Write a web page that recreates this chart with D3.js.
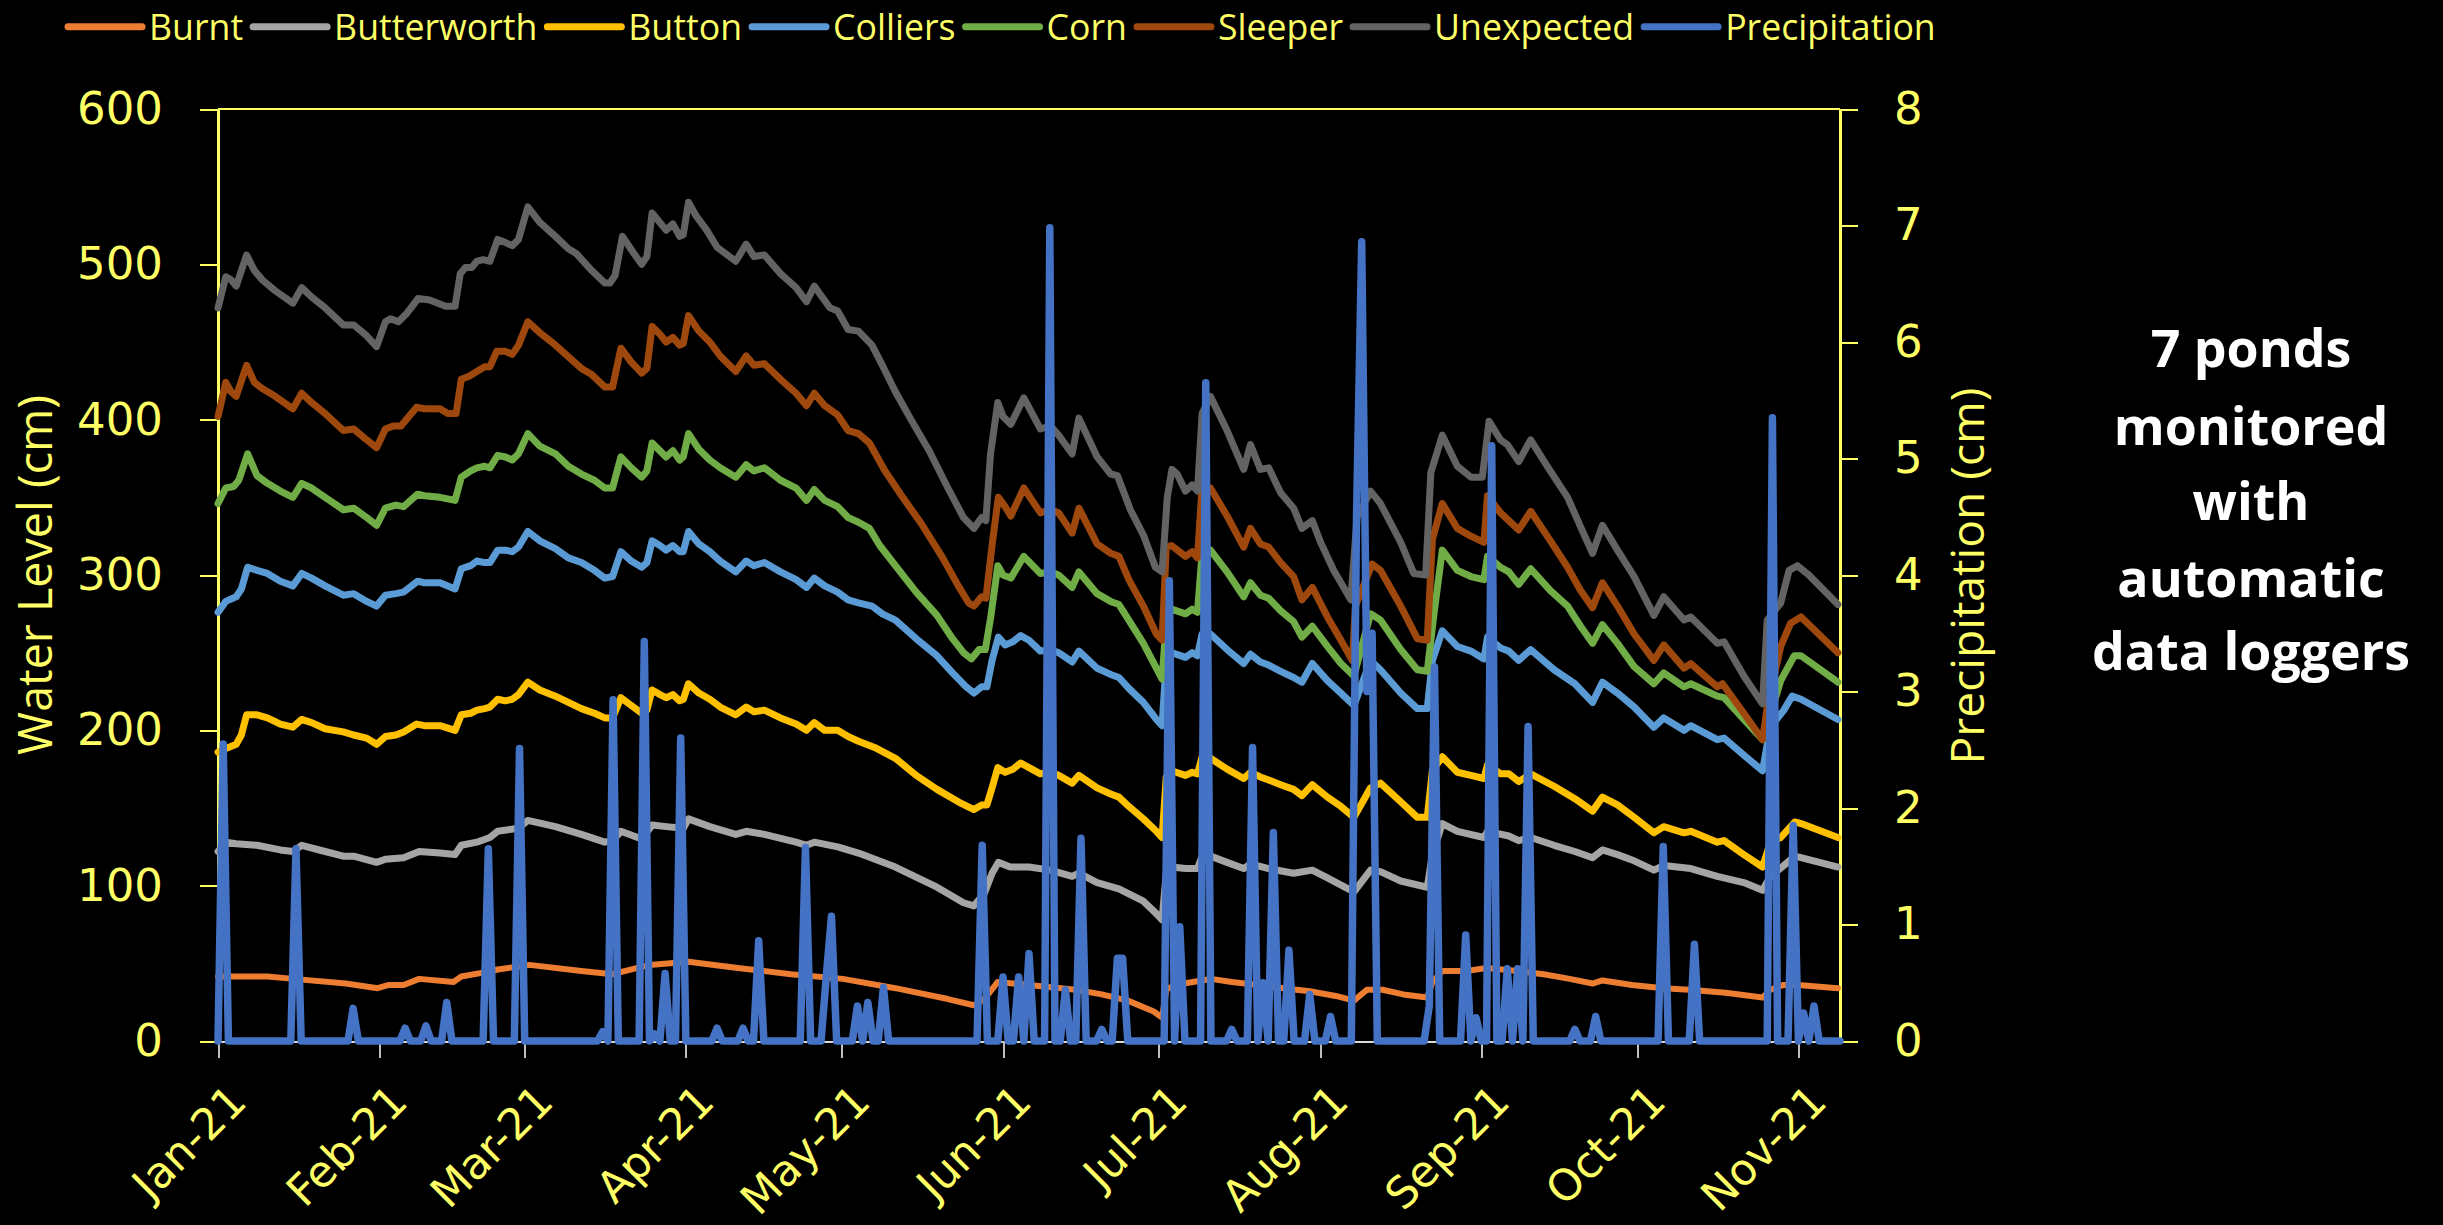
<!DOCTYPE html>
<html><head><meta charset="utf-8">
<script src="https://cdn.jsdelivr.net/npm/d3@7"></script>
<style>html,body{margin:0;padding:0;background:#000;}svg{display:block;}</style>
</head><body>
<svg id="chart" width="2443" height="1225"></svg>
<script>
// ---------------- DATA ----------------
// Each series: [day since 1 Jan 2021, value]
const startYear = 2021;
const lastDay = 312;
const monthTicks = ["2021-01-01","2021-02-01","2021-03-01","2021-04-01","2021-05-01","2021-06-01","2021-07-01","2021-08-01","2021-09-01","2021-10-01","2021-11-01"];
const leftTicks = [0,100,200,300,400,500,600];
const rightTicks = [0,1,2,3,4,5,6,7,8];
const seriesNames = ["Burnt","Butterworth","Button","Colliers","Corn","Sleeper","Unexpected","Precipitation"];
const seriesColors = ["#ED7D31","#A5A5A5","#FFC000","#5B9BD5","#70AD47","#9E480E","#636363","#4472C4"];
const noteLines = ["7 ponds","monitored","with","automatic","data loggers"];

const burnt = [[0,41.5],[9.5,41.5],[14.5,40],[24.6,37],[30.7,34],[32.7,36],[35.7,36],[38.7,40],[45.3,38],[46.8,41.5],[51.8,44.5],[53.8,46],[59.9,49],[69.9,45],[75.9,43],[83,49],[90.5,51],[100,47],[110.2,43],[120.2,40],[130.3,34],[140.4,27],[145.4,23],[147.4,27],[150,38],[156,36],[165,33],[170,30],[175,26],[180,19],[181.6,15],[182.4,33],[184,36],[189.3,39],[191,40],[195,38],[200,36],[205,34],[210,32],[215,29],[218.5,26],[221,33],[224,33],[228,30],[232.6,28],[233.6,38],[235.5,45],[240,45],[244,47],[250,45],[255,43],[260,40],[264.4,37],[266.3,39],[272,36],[278,34],[283,33],[290,31],[297.1,28],[298.6,33],[301,36],[304,36],[311.6,34]];

const butterworth = [[0,122],[1.5,128],[3.5,127],[7.5,126],[12,123],[14.4,122],[16.1,126],[20.6,122],[24.1,119],[26.1,119],[30.5,115],[32.2,117],[35.7,118],[38.7,122],[42.7,121],[45.6,120],[46.8,126],[49.8,128],[52.3,131],[53.8,135],[57.8,137],[59.6,142],[64.9,138],[69.9,133],[74.4,128],[75.9,129],[77.5,135],[81.5,130],[83.5,139],[86.2,138],[89.5,137],[90.5,143],[94.6,138],[99.6,133],[101.6,135],[105.1,133],[111.2,128],[113.2,126],[114.7,128],[119.2,125],[123.2,121],[130.3,112],[138.3,99],[143.4,89],[145.4,87],[147.4,95],[148.9,108],[150.1,115],[152.4,112],[156,112],[160.1,110],[164.3,106],[165.6,108],[169.1,102],[173.3,98],[178,90],[180.5,82],[181.6,78],[182.4,108],[183.4,112],[186.1,111],[188.4,111],[189.3,119],[190.9,119],[194.1,115],[197.3,111],[198.6,114],[202.1,111],[206.9,108],[210.5,110],[213.4,105],[218.5,96],[221.7,110],[223.6,109],[227.5,103],[232.6,99],[233.6,120],[235.5,140],[238.4,135],[243.5,131],[244.2,135],[248.3,132],[250.2,129],[252.5,131],[257,126],[261,122],[264.4,118],[266.3,123],[269.2,120],[272.4,116],[276.2,110],[278.1,113],[283.3,111],[288.4,106],[293.5,102],[297.1,97],[298.6,106],[301.2,113],[303.3,119],[304.5,118],[311.6,112]];

const button = [[0,186],[2,189],[3.5,191],[4.5,197],[5.5,210],[7.5,210],[9.5,208],[12,204],[14.4,202],[16.1,207],[18,205],[20.6,201],[24.1,199],[26.1,197],[28.6,195],[30.5,191],[32.2,196],[34.2,197],[35.7,199],[38.2,204],[39.7,203],[42.7,203],[45.6,200],[46.8,210],[48.6,211],[49.8,213],[51.3,214],[52.3,215],[53.8,220],[55.3,219],[56.6,220],[57.8,223],[59.6,231],[61.9,226],[64.9,222],[67.4,218],[69.9,214],[72.4,211],[74.4,208],[75.9,208],[77.5,221],[79.5,216],[81.5,211],[82.5,213],[83.5,226],[85,223],[86.2,221],[87.5,223],[88.8,219],[89.5,220],[90.5,230],[92.5,224],[94.6,220],[96.6,215],[99.6,210],[101.6,215],[103.1,212],[105.1,213],[108.2,208],[111.2,204],[113.2,200],[114.7,205],[116.7,200],[119.2,200],[121.2,196],[123.2,193],[126.3,189],[130.3,182],[134.3,171],[138.3,162],[142.4,154],[145.4,149],[146.9,152],[147.9,152],[148.9,163],[150,176],[151.4,173],[152.9,175],[154.4,179],[156,176],[158.2,172],[160.1,173],[161.7,171],[164.3,166],[165.6,171],[169.1,163],[171.7,159],[173.3,157],[175.2,151],[178,143],[180.5,135],[181.6,131],[182.4,170],[183.4,174],[186.1,171],[187.4,173],[188.4,172],[189.3,183],[190.9,182],[194.1,175],[197.3,169],[198.6,173],[200.5,170],[202.1,168],[204.4,165],[206.9,162],[208.5,158],[210.5,165],[213.4,157],[216,151],[218.5,144],[221.7,163],[223.6,166],[227.5,154],[230.7,144],[232.6,144],[233.6,174],[235.5,183],[238.4,173],[241,171],[243.5,169],[244.2,178],[246.7,172],[248.3,172],[250.2,167],[252.5,172],[257,164],[261,156],[264.4,148],[266.3,157],[269.2,152],[272.4,144],[276.2,134],[278.1,138],[282,134],[283.3,135],[288.4,128],[289.7,129],[293.5,120],[297.1,112],[298.6,128],[300.6,131],[303.3,141],[304.5,140],[311.6,131]];

const colliers = [[0,276],[1.5,283],[3.5,286],[4.5,291],[5.7,305],[7.5,303],[9.5,301],[12,296],[14.4,293],[16.1,301],[18,298],[20.6,293],[24.1,287],[26.1,288],[28.6,283],[30.5,280],[32.2,287],[34.2,288],[35.7,289],[38.4,296],[39.7,295],[42.7,295],[45.6,291],[46.8,304],[48.6,306],[49.8,309],[51.3,308],[52.3,308],[53.8,316],[55.3,316],[56.6,315],[57.8,318],[59.6,328],[61.9,322],[64.9,317],[67.4,311],[69.9,308],[72.4,303],[74.4,298],[75.9,299],[77.5,315],[79.5,309],[81.5,305],[82.5,308],[83.5,322],[85,319],[86.2,316],[87.5,319],[88.8,315],[89.5,315],[90.5,328],[92.5,320],[94.6,315],[96.6,309],[99.6,302],[101.6,309],[103.1,306],[105.1,308],[108.2,302],[111.2,297],[113.2,292],[114.7,298],[116.7,293],[119.2,289],[121.2,284],[123.2,282],[125.8,280],[127.8,275],[130.3,271],[134.3,259],[138.3,248],[141.3,237],[143.9,228],[145.4,224],[146.9,228],[147.9,228],[148.9,245],[150.1,260],[151.4,255],[152.9,257],[154.4,261],[156,258],[158.2,251],[160.1,252],[161.7,250],[164.3,244],[165.6,251],[169.1,240],[171.7,236],[173.3,234],[175.2,227],[178,218],[180.5,207],[181.6,203],[182.4,245],[183.4,250],[186.1,247],[187.4,250],[188.4,248],[189.3,262],[190.9,262],[194.1,252],[197.3,243],[198.6,249],[200.5,244],[202.1,242],[204.4,238],[206.9,234],[208.5,231],[210.5,243],[213.4,232],[216,224],[218.5,216],[221.7,245],[223.6,239],[227.5,224],[230.7,214],[232.6,214],[233.6,245],[235.5,264],[238.4,254],[241,251],[243.5,246],[244.2,260],[246.7,253],[248.3,251],[250.2,245],[252.5,252],[257,239],[261,230],[264.4,218],[266.3,231],[269.2,224],[272.4,215],[276.2,202],[278.1,208],[282,200],[283.3,203],[288.4,194],[289.7,195],[293.5,184],[297.1,174],[298.6,202],[301.2,213],[302.8,222],[304.5,220],[311.6,207]];

const corn = [[0,346],[1.5,356],[3,357],[4,361],[5.7,378],[7.5,364],[9.5,359],[12,354],[14.4,350],[16.1,359],[18,356],[20.6,350],[24.1,342],[26.1,343],[28.6,337],[30.5,332],[32.2,343],[34.2,345],[35.7,344],[38.4,352],[39.7,351],[42.7,350],[45.6,348],[46.8,363],[48.6,367],[49.8,369],[51.3,370],[52.3,369],[53.8,377],[55.3,376],[56.6,374],[57.8,378],[59.6,391],[61.9,383],[64.9,378],[67.4,370],[69.9,365],[72.4,361],[74.4,356],[75.9,356],[77.5,376],[79.5,369],[81.5,363],[82.5,367],[83.5,385],[85,380],[86.2,376],[87.5,380],[88.8,374],[89.5,376],[90.5,391],[92.5,381],[94.6,374],[96.6,369],[99.6,363],[101.6,371],[103.1,367],[105.1,369],[108.2,361],[111.2,356],[113.2,348],[114.7,355],[116.7,348],[119.2,344],[121.2,337],[123.2,334],[125.3,330],[127.3,319],[130.3,306],[134.3,289],[138.3,274],[141.3,259],[143.4,250],[144.9,246],[146.4,252],[147.6,252],[148.6,272],[150,306],[151,300],[152.5,298],[155,312],[158.2,301],[160.1,302],[161.7,300],[164.3,292],[165.6,302],[169.1,288],[171.7,283],[173.3,281],[175.2,271],[178,256],[180.5,240],[181.6,233],[182.4,270],[183.4,278],[186.1,275],[187.4,278],[188.4,276],[189.3,314],[190.9,316],[194.1,302],[197.3,286],[198.6,295],[200.5,287],[202.1,285],[204.4,277],[206.9,270],[208.5,260],[210.5,267],[213.4,254],[216,243],[218.5,235],[221.7,275],[223.6,271],[227.5,252],[230.7,239],[232.6,238],[233.9,275],[235.5,316],[238.4,303],[241,299],[243.5,297],[244.2,312],[246.7,305],[248.3,302],[250.2,294],[252.5,304],[256.3,290],[259.6,280],[262.1,267],[264.4,256],[266.3,268],[269.2,256],[272.4,241],[276.2,230],[278.1,237],[282,228],[283.3,230],[288.4,222],[289.7,221],[293.5,207],[297.1,194],[300.6,232],[303.2,248],[304.5,248],[311.6,231]];

const sleeper = [[0,402],[1.5,424],[2.5,418],[3.5,415],[5.5,435],[7,424],[8.5,420],[11,415],[14.4,407],[16.1,417],[18,411],[20.6,404],[24.1,393],[26.1,394],[28.6,387],[30.5,382],[32.2,394],[33.7,396],[35.2,396],[38.2,408],[39.7,407],[42.7,407],[44.2,404],[45.8,404],[46.8,426],[48.3,428],[49.8,431],[51.3,434],[52.3,434],[53.6,444],[55.3,444],[56.6,442],[57.8,448],[59.6,463],[61.9,456],[64.9,448],[67.9,439],[69.9,433],[71.9,429],[74.4,421],[75.9,421],[77.5,446],[79.5,437],[81.5,430],[82.5,433],[83.5,460],[85,455],[86.2,450],[87.5,453],[88.8,448],[89.5,449],[90.5,467],[92.5,457],[94.6,450],[96.6,441],[99.6,431],[101.6,441],[103.1,435],[105.1,436],[108.2,426],[111.2,417],[113.2,409],[114.7,417],[116.7,409],[119.2,403],[121.2,393],[123.2,391],[125.3,385],[128.3,367],[131.3,352],[135.3,333],[139.4,311],[142.4,293],[144.4,282],[145.4,280],[146.9,286],[147.7,285],[149,322],[150.1,350],[151.4,344],[152.5,338],[155,356],[158.2,340],[160.1,342],[161.7,340],[164.3,327],[165.6,343],[169.1,320],[171.7,314],[173.3,312],[175.2,297],[178,280],[180.5,262],[181.6,258],[182.4,318],[183.4,319],[186.1,312],[187.4,315],[188.4,311],[189.3,357],[190.9,356],[194.1,338],[197.3,318],[198.6,330],[200.5,320],[202.1,318],[204.4,308],[206.9,299],[208.5,284],[210.5,292],[213.4,273],[216,258],[218.2,245],[218.8,280],[222,307],[223.6,303],[227.5,280],[230.7,259],[232.6,258],[233.6,323],[235.5,346],[238.4,330],[241,325],[243.5,321],[244.2,351],[246.7,340],[248.3,335],[250.2,329],[252.5,341],[256.3,322],[259.6,305],[262.1,290],[264.4,279],[266.3,295],[269.2,280],[272.4,262],[276.2,245],[278.1,255],[282,240],[283.3,243],[288.4,228],[289.4,230],[293.5,211],[297.1,194],[298,215],[300.6,254],[302.5,269],[304.5,273],[311.6,250]];

const unexpected = [[0,472],[1.5,492],[2.5,490],[3.5,486],[5.5,506],[7,496],[8.5,490],[11,483],[14.4,475],[16.1,485],[18,479],[20.6,472],[24.1,461],[26.1,461],[28.6,454],[30.5,447],[32.2,463],[33.2,465],[34.7,463],[36.2,468],[38.5,478],[40.7,477],[43.8,473],[45.6,473],[46.6,494],[47.6,498],[48.8,498],[49.8,502],[51,503],[52.3,502],[53.8,516],[55.3,514],[56.6,512],[57.8,516],[59.6,537],[61.9,527],[64.9,518],[67.4,510],[68.9,507],[71.9,496],[74.4,488],[75.4,488],[76.4,493],[77.8,518],[80,507],[81.5,500],[82.5,505],[83.5,533],[85,527],[86.2,522],[87.5,526],[88.8,518],[89.5,519],[90.5,540],[92,531],[94,522],[96,511],[99.6,502],[101.6,513],[103.1,505],[105.1,506],[108.2,494],[111.2,485],[113.2,476],[114.7,486],[116.2,479],[117.7,472],[119.2,470],[121.2,458],[123.2,457],[125.8,448],[127.8,435],[130.3,418],[133.3,400],[136.8,380],[140.4,356],[143.4,337],[145.4,330],[146.9,337],[147.7,335],[148.6,378],[150,411],[151,402],[152.5,397],[155,414],[158.2,394],[160.1,396],[161.7,390],[164.3,378],[165.6,401],[169.1,376],[171.7,365],[173,364],[175.5,342],[178.1,325],[180.3,305],[181.6,302],[182.6,350],[183.5,368],[184.5,365],[186.1,354],[187.4,358],[188.4,354],[189.3,404],[190.9,415],[194.1,393],[197.3,368],[198.6,384],[200.5,368],[202.1,369],[204.4,353],[206.9,343],[208.5,330],[210.5,335],[212.1,321],[214.6,303],[217.9,284],[219.1,337],[221.7,354],[223.6,346],[227.5,321],[230,301],[232.3,300],[233.3,366],[235.5,390],[238.4,370],[241,363],[243.2,363],[244.5,399],[246.7,387],[248,384],[250.2,373],[252.5,387],[255.7,370],[259.6,350],[262.1,331],[264.4,314],[266.3,332],[269.2,316],[272.4,299],[276.2,274],[278.1,286],[282,271],[283.3,273],[288.4,256],[289.7,257],[293.5,235],[297.1,217],[298,271],[300.6,282],[302.2,303],[303.8,306],[306,300],[311.6,281]];

const precipitation = [[0,0],[1,2.55],[2,0],[14,0],[15,1.65],[16,0],[25,0],[26,0.28],[27,0],[35,0],[36,0.11],[37,0],[39,0],[40,0.13],[41,0],[43,0],[44,0.33],[45,0],[51,0],[52,1.65],[53,0],[57,0],[58,2.51],[59,0],[73,0],[74,0.08],[75,0],[76,2.93],[77,0],[81,0],[82,3.43],[83,0],[84,0.06],[85,0],[86,0.58],[87,0],[88,0],[89,2.6],[90,0],[95,0],[96,0.11],[97,0],[100,0],[101,0.11],[102,0],[103,0],[104,0.86],[105,0],[112,0],[113,1.66],[114,0],[116,0],[117,0.55],[118,1.07],[119,0],[122,0],[123,0.3],[124,0],[125,0.33],[126,0],[127,0],[128,0.46],[129,0],[146,0],[147,1.68],[148,0],[150,0],[151,0.55],[152,0],[153,0],[154,0.55],[155,0],[156,0.75],[157,0],[159,0],[160,6.98],[161,0],[162,0],[163,0.44],[164,0],[165,0],[166,1.74],[167,0],[169,0],[170,0.1],[171,0],[172,0],[173,0.71],[174,0.71],[175,0],[182,0],[183,3.95],[184,0],[185,0.98],[186,0],[189,0],[190,5.65],[191,0],[194,0],[195,0.1],[196,0],[198,0],[199,2.52],[200,0],[201,0.5],[202,0],[203,1.79],[204,0],[205,0],[206,0.78],[207,0],[209,0],[210,0.4],[211,0],[213,0],[214,0.21],[215,0],[218,0],[219,4.5],[220,6.86],[221,3.0],[222,3.5],[223,0],[232,0],[233,0.3],[234,3.21],[235,0],[239,0],[240,0.91],[241,0],[242,0.2],[243,0],[244,0],[245,5.11],[246,0],[247,0],[248,0.62],[249,0],[250,0.62],[251,0],[252,2.7],[253,0],[260,0],[261,0.1],[262,0],[264,0],[265,0.21],[266,0],[277,0],[278,1.67],[279,0],[283,0],[284,0.83],[285,0],[298,0],[299,5.35],[300,0],[302,0],[303,1.85],[304,0],[305,0.24],[306,0],[307,0.3],[308,0],[312,0]];

const levelSeries = [burnt, butterworth, button, colliers, corn, sleeper, unexpected];

// ---------------- DRAW ----------------
const YEL = "#FFFF66";
const svg = d3.select("#chart");
svg.append("rect").attr("width",2443).attr("height",1225).attr("fill","#000");

const plot = {left:218, right:1840, top:109, bottom:1041};
const t0 = new Date(startYear,0,1);
const dayToDate = d => new Date(t0.getTime() + d*86400000);
const x = d3.scaleTime().domain([t0, dayToDate(lastDay)]).range([plot.left, plot.right]);
const yL = d3.scaleLinear().domain([0,600]).range([plot.bottom, plot.top]);
const yR = d3.scaleLinear().domain([0,8]).range([plot.bottom, plot.top]);

// top border
svg.append("line").attr("x1",plot.left).attr("x2",plot.right).attr("y1",plot.top).attr("y2",plot.top)
  .attr("stroke",YEL).attr("stroke-width",2);

// bottom axis
const parse = d3.timeParse("%Y-%m-%d");
const xAxis = d3.axisBottom(x).tickValues(monthTicks.map(parse)).tickSize(17).tickSizeOuter(0)
  .tickFormat(d3.timeFormat("%b-%y"));
const gx = svg.append("g").attr("transform",`translate(0,${plot.bottom})`).call(xAxis);
gx.select(".domain").attr("stroke","#D9D9D9").attr("stroke-width",2);
gx.selectAll(".tick line").attr("stroke","#BFBFBF").attr("stroke-width",2);
gx.selectAll(".tick text").attr("fill",YEL).attr("font-family","DejaVu Sans").attr("font-size",43.5)
  .attr("x",0).attr("y",0).attr("dy",0).attr("text-anchor","end")
  .attr("transform","translate(30,63) rotate(-45)");

// left axis
const yAxisL = d3.axisLeft(yL).tickValues(leftTicks).tickSize(18).tickSizeOuter(0).tickPadding(37);
const gl = svg.append("g").attr("transform",`translate(${plot.left},0)`).call(yAxisL);
gl.select(".domain").attr("stroke",YEL).attr("stroke-width",2.5);
gl.selectAll(".tick line").attr("stroke",YEL).attr("stroke-width",2);
gl.selectAll(".tick text").attr("fill",YEL).attr("font-family","DejaVu Sans").attr("font-size",45);

// right axis
const yAxisR = d3.axisRight(yR).tickValues(rightTicks).tickSize(18).tickSizeOuter(0).tickPadding(36);
const gr = svg.append("g").attr("transform",`translate(${plot.right},0)`).call(yAxisR);
gr.select(".domain").attr("stroke",YEL).attr("stroke-width",2.5);
gr.selectAll(".tick line").attr("stroke",YEL).attr("stroke-width",2);
gr.selectAll(".tick text").attr("fill",YEL).attr("font-family","DejaVu Sans").attr("font-size",45);

svg.selectAll(".domain, .tick line").attr("shape-rendering","crispEdges");

// series
const lineL = d3.line().x(d => x(dayToDate(d[0]))).y(d => yL(d[1]));
const lineR = d3.line().x(d => x(dayToDate(d[0]))).y(d => yR(d[1]));
const gS = svg.append("g");
levelSeries.forEach((s,i) => {
  gS.append("path").attr("d", lineL(s)).attr("fill","none").attr("stroke",seriesColors[i])
    .attr("stroke-width", i===0 ? 6 : 7).attr("stroke-linejoin","round").attr("stroke-linecap","round");
});
gS.append("path").attr("d", lineR(precipitation)).attr("fill","none").attr("stroke",seriesColors[7])
  .attr("stroke-width",7.5).attr("stroke-linejoin","round").attr("stroke-linecap","round");

// fit helper
function fitSize(sel, target) {
  const w = sel.node().getComputedTextLength();
  const fs = parseFloat(sel.attr("font-size"));
  sel.attr("font-size", fs*target/w);
}

// axis titles
const tl = svg.append("text").text("Water Level (cm)").attr("font-family","Open Sans").attr("font-size",46)
  .attr("fill",YEL).attr("text-anchor","middle").attr("transform","translate(52,575) rotate(-90)");
fitSize(tl, 360);
const tr = svg.append("text").text("Precipitation (cm)").attr("font-family","Open Sans").attr("font-size",46)
  .attr("fill",YEL).attr("text-anchor","middle").attr("transform","translate(1984,576) rotate(-90)");
fitSize(tr, 377);

// legend
const lg = svg.append("g");
const texts = seriesNames.map(n => lg.append("text").text(n).attr("font-family","Open Sans").attr("font-size",36).attr("fill",YEL));
let tot = 0; texts.forEach(t => tot += t.node().getComputedTextLength());
const lfs = 36*1150/tot;
const lBase = Math.max(25 + 0.357*lfs, 1.08*lfs + 1);
let cx = 68;
texts.forEach((t,i) => {
  t.attr("font-size",lfs);
  lg.append("line").attr("x1",cx).attr("x2",cx+74).attr("y1",lBase-0.357*lfs).attr("y2",lBase-0.357*lfs)
    .attr("stroke",seriesColors[i]).attr("stroke-width",7).attr("stroke-linecap","round");
  t.attr("x",cx+81).attr("y",lBase);
  cx += 81 + t.node().getComputedTextLength() + 10;
});

// note
const baselines = [367,445,520,597,670];
const noteTexts = noteLines.map((s,i) => svg.append("text").text(s).attr("x",2251).attr("y",baselines[i])
  .attr("text-anchor","middle").attr("font-family","Open Sans").attr("font-weight","bold")
  .attr("font-size",52).attr("fill","#fff"));
const w4 = noteTexts[4].node().getComputedTextLength();
noteTexts.forEach(t => t.attr("font-size", 52*318/w4));
</script>
</body></html>
